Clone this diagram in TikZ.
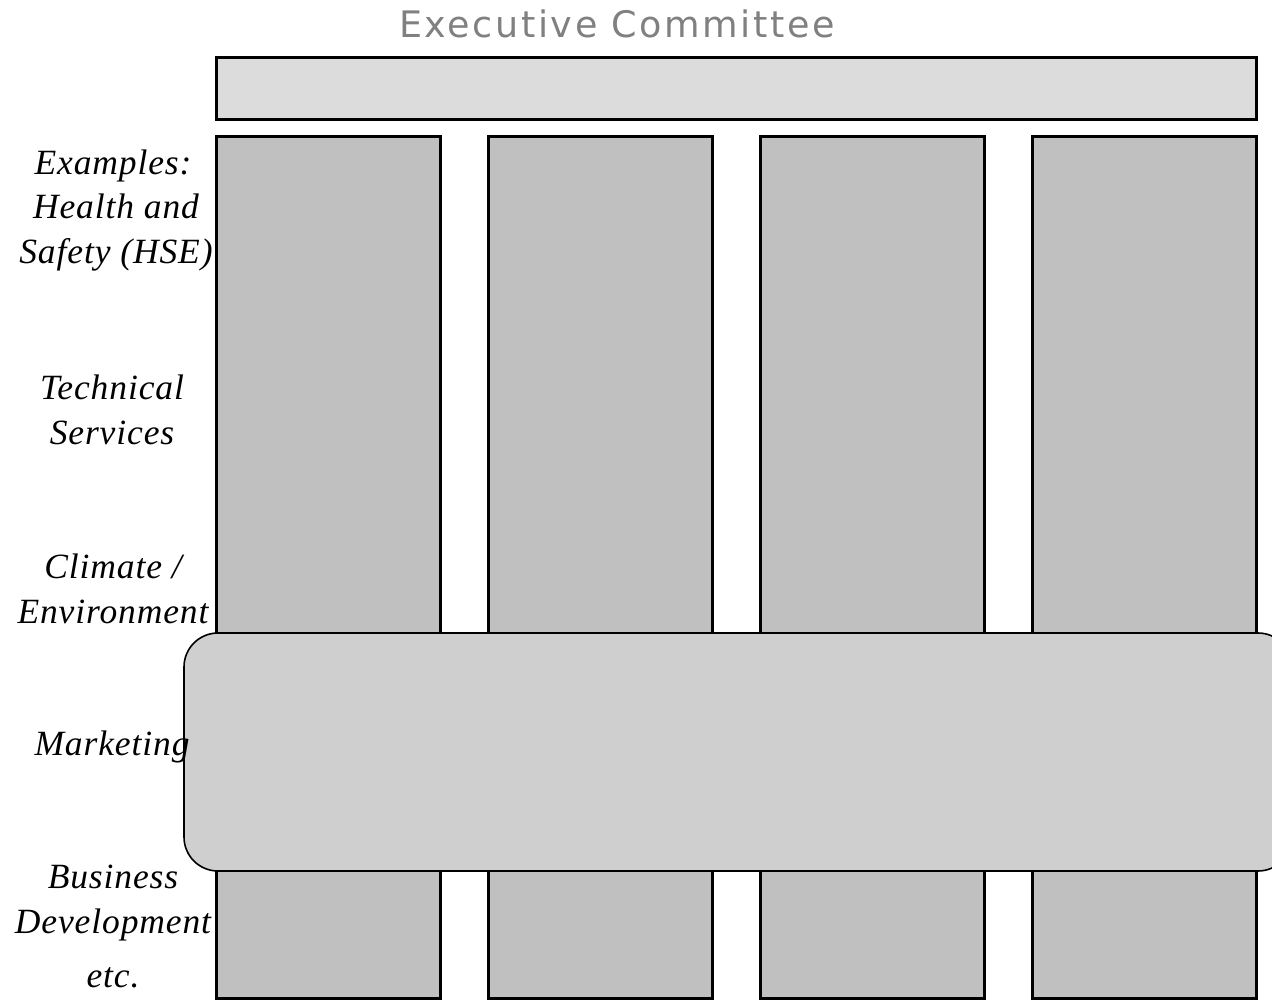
\documentclass[tikz,border=0pt]{standalone}
\usepackage{fontspec}
\setmainfont{Liberation Serif}[LetterSpace=2.5]
\newfontfamily\titlefont{DejaVu Sans}[LetterSpace=7]
\definecolor{barfill}{HTML}{DCDCDC}
\definecolor{colfill}{HTML}{C0C0C0}
\definecolor{bandfill}{HTML}{CFCFCF}
\definecolor{titlegray}{HTML}{808080}
\begin{document}
\begin{tikzpicture}[x=1pt,y=-1pt,
  colbox/.style={draw=black, line width=3pt, fill=colfill, minimum width=224pt, minimum height=862pt, inner sep=0pt},
  barbox/.style={draw=black, line width=3pt, fill=barfill, minimum width=1040pt, minimum height=62pt, inner sep=0pt},
  bandbox/.style={draw=black, line width=1.6pt, fill=bandfill, rounded corners=34pt, minimum width=1108pt, minimum height=238pt, inner sep=0pt},
  lbl/.style={font=\fontsize{35.5}{45}\selectfont\itshape, align=center, inner sep=0pt}]
\useasboundingbox (0,0) rectangle (1272,1001);
\begin{scope}
\clip (0,0) rectangle (1272,1001);
\node[text=titlegray, font=\titlefont\fontsize{36.5}{40}\selectfont, anchor=base, inner sep=0pt] (title) at (617,37) {Executive Committee};
\node[barbox] (bar) at (736,88) {};
\node[colbox] (c1) at (328,567) {};
\node[colbox] (c2) at (600,567) {};
\node[colbox] (c3) at (872,567) {};
\node[colbox] (c4) at (1144,567) {};
\node[bandbox] (band) at (738,752) {};
\end{scope}
\node[lbl] (l1) at (113,166) {Examples:};
\node[lbl] (l2) at (116,233) {Health and\\Safety (HSE)};
\node[lbl] (l3) at (112,410) {Technical\\Services};
\node[lbl] (l4) at (113,589) {Climate /\\Environment};
\node[lbl] (l5) at (112,747) {Marketing};
\node[lbl] (l6) at (113,903) {Business\\Development};
\node[lbl] (l7) at (113,978) {etc.};
\end{tikzpicture}
\end{document}
